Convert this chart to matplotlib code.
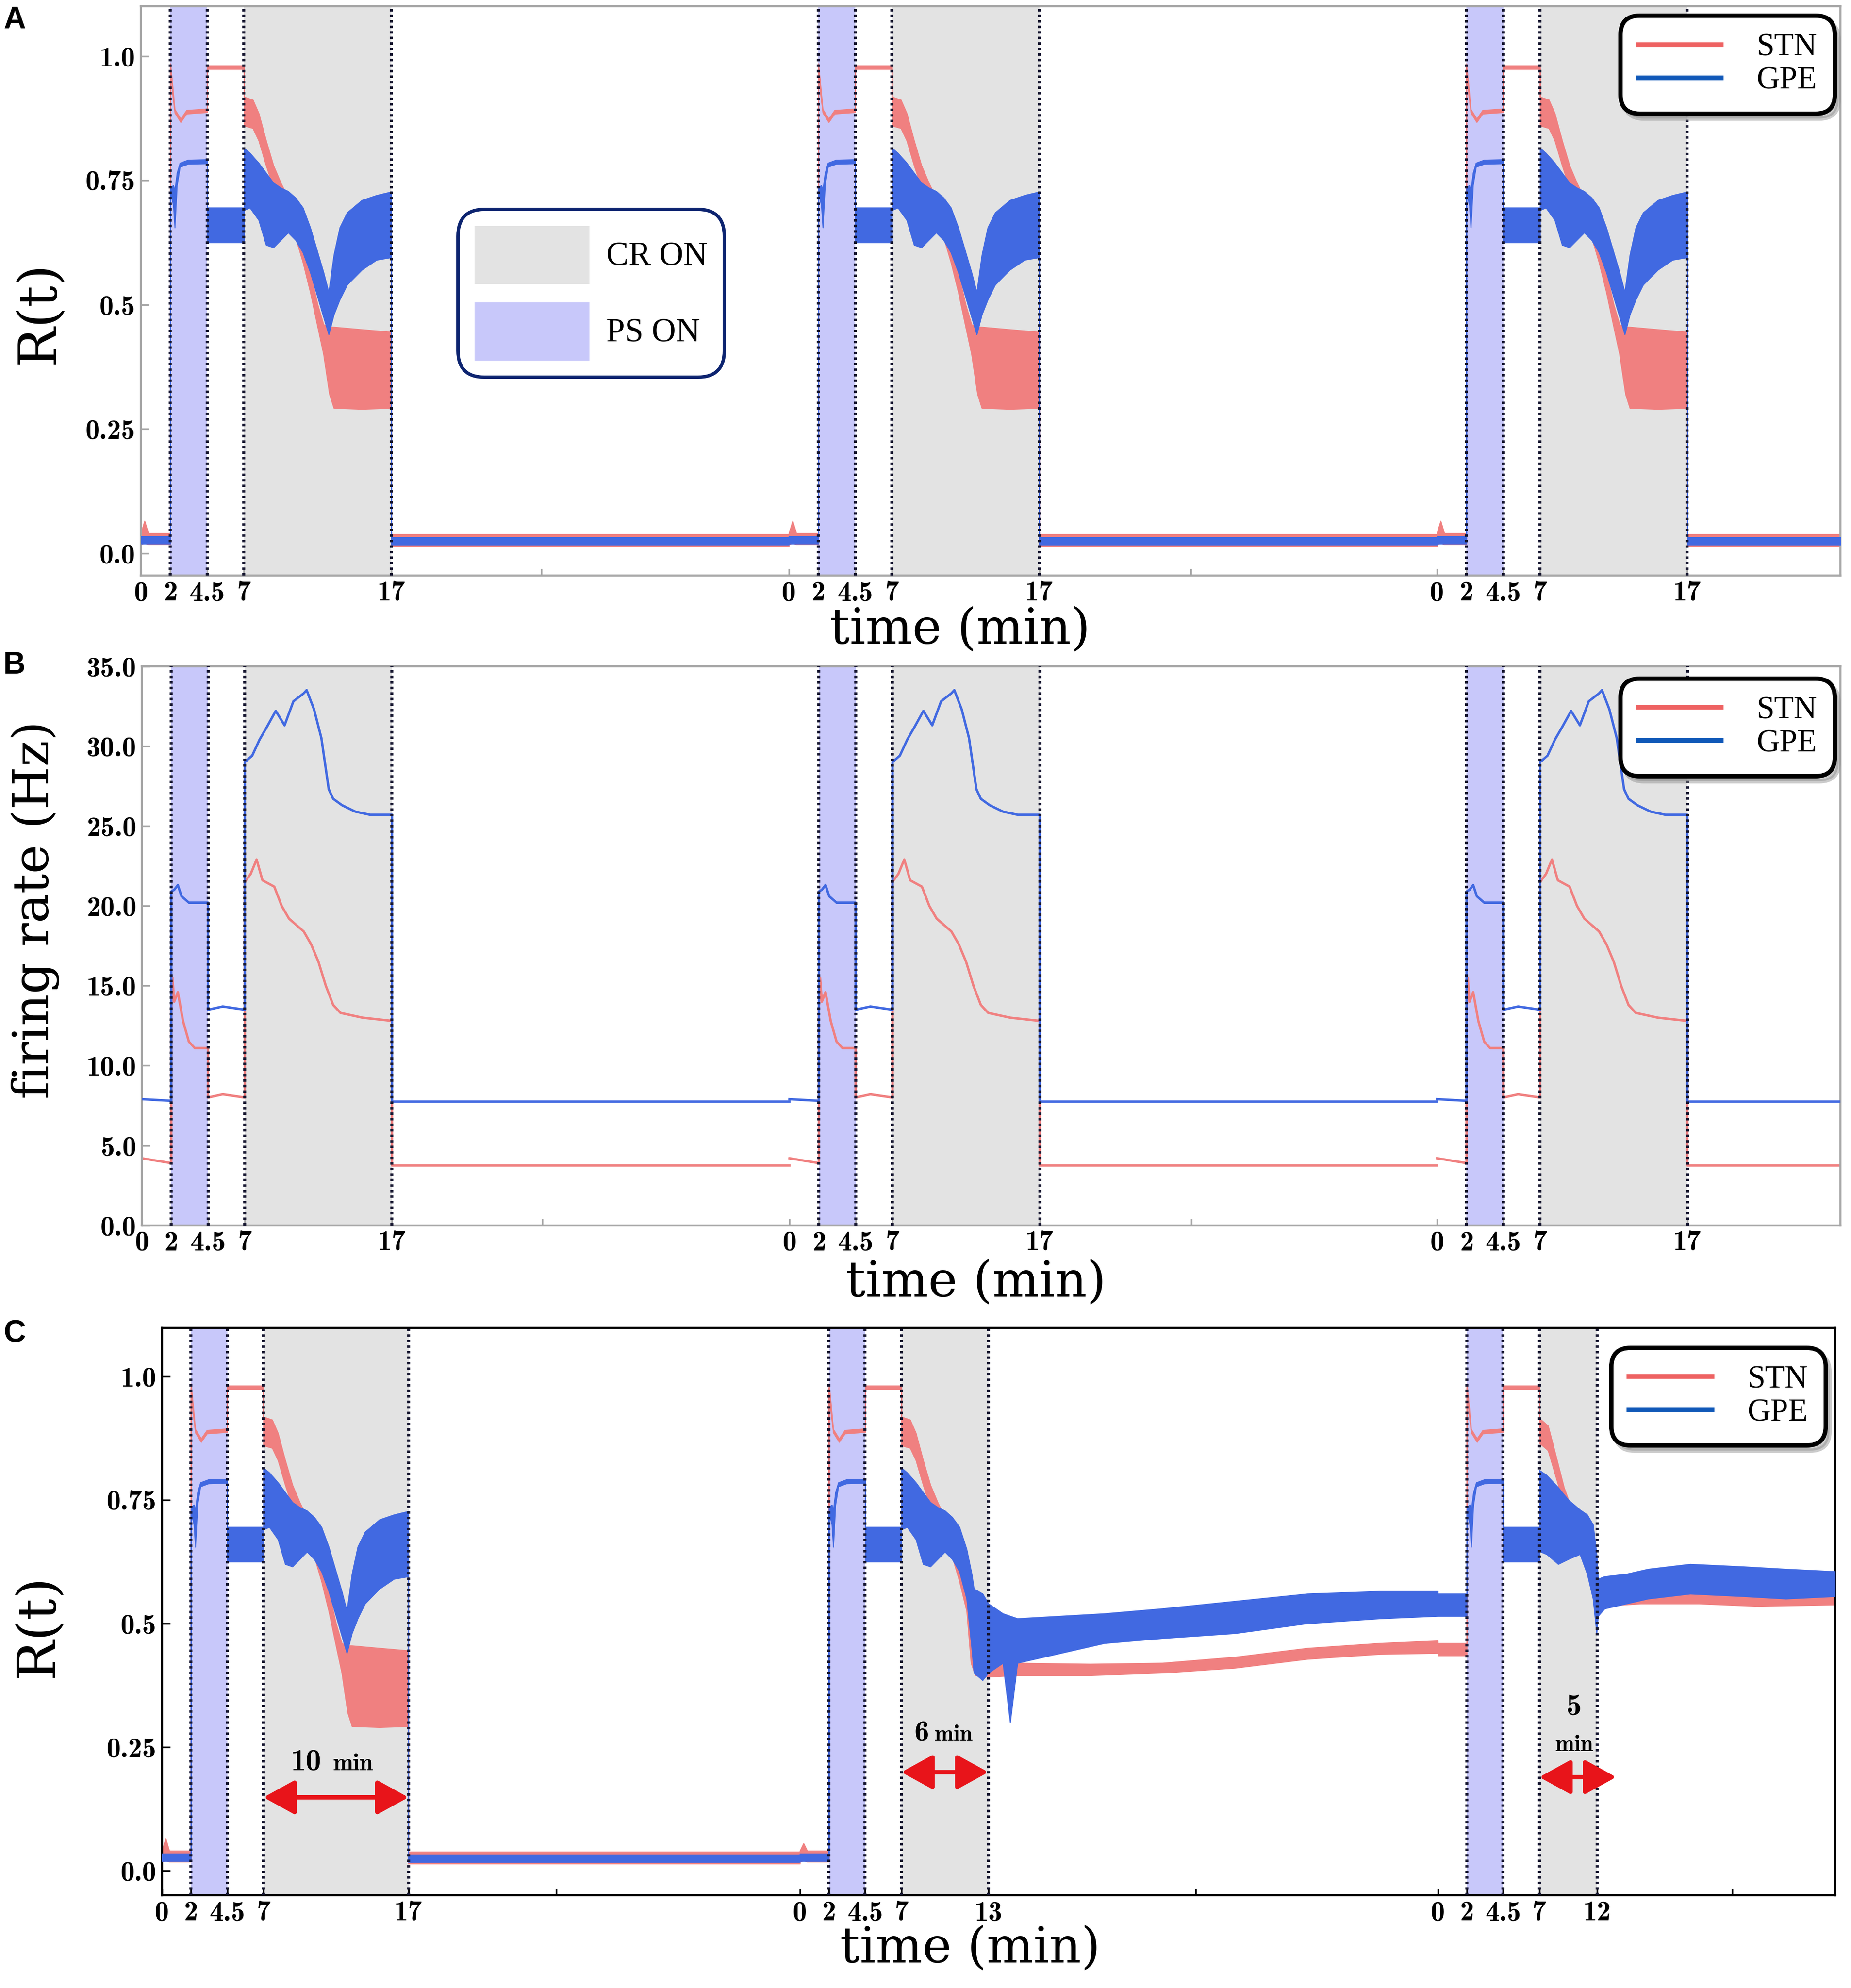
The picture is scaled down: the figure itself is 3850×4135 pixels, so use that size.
import numpy as np
import matplotlib
matplotlib.use("Agg")
import matplotlib.pyplot as plt
from matplotlib.lines import Line2D
from matplotlib.patches import Patch

# ------------------------------------------------------------------ data
SEG_STARTS = [0, 44, 88]          # each block re-starts its local clock at 0
X_MAX = 115.4

# R(t) block used in panel A (and first block of C); local minutes
STN_R_T = [0.0, 0.25, 0.5, 1.2, 2.0, 2.0, 2.12, 2.3, 2.7, 3.1, 4.5, 4.5, 7.0,
           7.0, 7.6, 8.0, 8.5, 9.0, 9.5, 10.0, 10.5, 11.0, 11.5, 12.0, 12.4, 12.8,
           13.1, 15.0, 17.0, 17.0, 44.0]
STN_R_HI = [0.04, 0.065, 0.04, 0.04, 0.04, 0.985, 0.95, 0.893, 0.874, 0.891, 0.894,
            0.981, 0.981, 0.918, 0.912, 0.885, 0.83, 0.78, 0.745, 0.715, 0.675, 0.625,
            0.565, 0.50, 0.46, 0.455, 0.455, 0.45, 0.445, 0.038, 0.038]
STN_R_LO = [0.018, 0.02, 0.018, 0.018, 0.018, 0.977, 0.93, 0.886, 0.867, 0.884, 0.887,
            0.974, 0.974, 0.86, 0.855, 0.83, 0.78, 0.735, 0.705, 0.675, 0.635, 0.585,
            0.525, 0.455, 0.40, 0.32, 0.292, 0.29, 0.292, 0.014, 0.014]

GPE_R_T = [0.0, 2.0, 2.0, 2.2, 2.3, 2.45, 2.65, 3.2, 4.5, 4.5, 7.0,
           7.0, 7.4, 8.0, 8.5, 9.0, 9.5, 10.0, 10.5, 11.0, 11.5, 12.0, 12.4, 12.75,
           13.1, 13.5, 14.0, 15.0, 16.0, 17.0, 17.0, 44.0]
GPE_R_HI = [0.034, 0.034, 0.735, 0.74, 0.73, 0.765, 0.785, 0.791, 0.792, 0.695, 0.695,
            0.815, 0.805, 0.785, 0.765, 0.745, 0.735, 0.728, 0.715, 0.695, 0.655, 0.605,
            0.565, 0.525, 0.60, 0.655, 0.685, 0.71, 0.72, 0.727, 0.032, 0.032]
GPE_R_LO = [0.019, 0.019, 0.725, 0.70, 0.655, 0.74, 0.777, 0.783, 0.784, 0.625, 0.625,
            0.69, 0.695, 0.67, 0.62, 0.615, 0.63, 0.645, 0.63, 0.605, 0.565, 0.515,
            0.475, 0.44, 0.48, 0.51, 0.54, 0.57, 0.59, 0.595, 0.017, 0.017]

# panel C, second block (CR 7-13 min)
STN_C2_T = [0.0, 0.25, 0.5, 1.2, 2.0, 2.0, 2.12, 2.3, 2.7, 3.1, 4.5, 4.5, 7.0,
            7.0, 7.6, 8.0, 8.5, 9.0, 9.5, 10.0, 10.5, 11.0, 11.5, 11.8, 12.1, 13.0,
            15.0, 20.0, 25.0, 30.0, 35.0, 40.0, 44.0]
STN_C2_HI = [0.04, 0.055, 0.04, 0.04, 0.04, 0.985, 0.95, 0.893, 0.874, 0.891, 0.894,
             0.981, 0.981, 0.918, 0.912, 0.885, 0.83, 0.78, 0.745, 0.715, 0.675, 0.625,
             0.565, 0.47, 0.425, 0.42, 0.42, 0.418, 0.42, 0.432, 0.45, 0.46, 0.465]
STN_C2_LO = [0.018, 0.02, 0.018, 0.018, 0.018, 0.977, 0.93, 0.886, 0.867, 0.884, 0.887,
             0.974, 0.974, 0.86, 0.855, 0.83, 0.78, 0.735, 0.705, 0.675, 0.635, 0.585,
             0.525, 0.42, 0.395, 0.392, 0.395, 0.395, 0.40, 0.41, 0.428, 0.438, 0.44]
GPE_C2_T = [0.0, 2.0, 2.0, 2.2, 2.3, 2.45, 2.65, 3.2, 4.5, 4.5, 7.0,
            7.0, 7.4, 8.0, 8.5, 9.0, 9.5, 10.0, 10.5, 11.0, 11.5, 11.85, 12.0, 12.6,
            13.0, 14.0, 14.5, 15.0, 18.0, 21.0, 25.0, 30.0, 35.0, 40.0, 44.0]
GPE_C2_HI = [0.034, 0.034, 0.735, 0.74, 0.73, 0.765, 0.785, 0.791, 0.792, 0.695, 0.695,
             0.815, 0.805, 0.785, 0.765, 0.745, 0.735, 0.728, 0.715, 0.695, 0.65, 0.60,
             0.57, 0.56, 0.54, 0.52, 0.515, 0.51, 0.515, 0.52, 0.53, 0.545, 0.56, 0.565,
             0.565]
GPE_C2_LO = [0.019, 0.019, 0.725, 0.70, 0.655, 0.74, 0.777, 0.783, 0.784, 0.625, 0.625,
             0.69, 0.695, 0.67, 0.62, 0.615, 0.63, 0.645, 0.63, 0.605, 0.55, 0.45,
             0.40, 0.385, 0.40, 0.42, 0.30, 0.42, 0.44, 0.46, 0.47, 0.48, 0.50, 0.51,
             0.515]

# panel C, third block (CR 7-12 min)
STN_C3_T = [0.0, 2.0, 2.0, 2.12, 2.3, 2.7, 3.1, 4.5, 4.5, 7.0,
            7.0, 7.6, 8.0, 8.7, 9.5, 10.3, 10.8, 11.0, 11.3, 14.0, 18.0, 22.0, 27.5]
STN_C3_HI = [0.46, 0.46, 0.985, 0.95, 0.893, 0.874, 0.891, 0.894, 0.981, 0.981,
             0.915, 0.90, 0.855, 0.775, 0.71, 0.645, 0.59, 0.57, 0.565, 0.568, 0.57,
             0.565, 0.565]
STN_C3_LO = [0.435, 0.435, 0.977, 0.93, 0.886, 0.867, 0.884, 0.887, 0.974, 0.974,
             0.865, 0.85, 0.81, 0.74, 0.675, 0.60, 0.55, 0.52, 0.535, 0.54, 0.54,
             0.535, 0.538]
GPE_C3_T = [0.0, 2.0, 2.0, 2.2, 2.3, 2.45, 2.65, 3.2, 4.5, 4.5, 7.0,
            7.0, 7.5, 8.3, 9.0, 9.8, 10.3, 10.7, 10.95, 11.05, 11.5, 13.0, 14.5, 17.4,
            21.0, 24.0, 27.5]
GPE_C3_HI = [0.56, 0.56, 0.735, 0.74, 0.73, 0.765, 0.785, 0.791, 0.792, 0.695, 0.695,
             0.81, 0.80, 0.775, 0.75, 0.73, 0.72, 0.70, 0.64, 0.59, 0.595, 0.60, 0.61,
             0.62, 0.615, 0.61, 0.605]
GPE_C3_LO = [0.515, 0.515, 0.725, 0.70, 0.655, 0.74, 0.777, 0.783, 0.784, 0.625, 0.625,
             0.646, 0.64, 0.62, 0.63, 0.64, 0.60, 0.55, 0.48, 0.515, 0.53, 0.54, 0.55,
             0.56, 0.555, 0.55, 0.555]

# panel B firing rate block (Hz)
GPE_F_T = [0.0, 2.0, 2.0, 2.2, 2.45, 2.7, 3.2, 4.5, 4.5, 5.5, 7.0, 7.0, 7.5, 8.0, 8.5,
           9.1, 9.7, 10.3, 11.0, 11.2, 11.7, 12.2, 12.7, 13.0, 13.6, 14.5, 15.5, 17.0,
           17.0, 44.0]
GPE_F = [7.9, 7.8, 20.9, 21.0, 21.3, 20.6, 20.2, 20.2, 13.5, 13.7, 13.5, 29.0, 29.4,
         30.4, 31.2, 32.2, 31.3, 32.8, 33.3, 33.5, 32.3, 30.5, 27.3, 26.7, 26.3, 25.9,
         25.7, 25.7, 7.75, 7.75]
STN_F_T = [0.0, 2.0, 2.0, 2.08, 2.2, 2.45, 2.8, 3.2, 3.6, 4.5, 4.5, 5.5, 7.0, 7.0,
           7.4, 7.8, 8.2, 8.6, 9.0, 9.5, 10.0, 10.5, 11.0, 11.5, 12.0, 12.5, 13.0,
           13.5, 15.0, 17.0, 17.0, 44.0]
STN_F = [4.2, 3.9, 13.5, 15.5, 14.0, 14.6, 12.8, 11.5, 11.1, 11.1, 8.0, 8.2, 8.0, 21.5,
         22.0, 22.9, 21.6, 21.4, 21.2, 20.0, 19.2, 18.8, 18.4, 17.6, 16.5, 15.0, 13.8,
         13.3, 13.0, 12.8, 3.75, 3.75]

# phase boundaries (local minutes) for each block
PS_ON, PS_OFF, CR_ON = 2.0, 4.5, 7.0
CR_OFF_AB = [17, 17, 17]
CR_OFF_C = [17, 13, 11.0]

TICK_LOCAL = [0, 2, 4.5, 7]
TICK_LAB_AB = ["0", "2", "4.5", "7", "17"]
TICK_LAB_C = [["0", "2", "4.5", "7", "17"], ["0", "2", "4.5", "7", "13"],
              ["0", "2", "4.5", "7", "12"]]
EXTRA_TICKS_AB = [27.2, 71.3]
EXTRA_TICKS_C = [27.2, 71.3, 108.3]

R_TICKS = [0.0, 0.25, 0.5, 0.75, 1.0]
R_TICK_LAB = ["0.0", "0.25", "0.5", "0.75", "1.0"]
F_TICKS = [0, 5, 10, 15, 20, 25, 30, 35]
F_TICK_LAB = ["0.0", "5.0", "10.0", "15.0", "20.0", "25.0", "30.0", "35.0"]

ARROW_LABELS = ["10", "6", "5"]

# ------------------------------------------------------------------ style
C_STN = "#f08080"
C_GPE = "#4169e1"
C_STN_LEG = "#ee6262"
C_GPE_LEG = "#1058b8"
C_PS = "#c8c8fa"
C_CR = "#e3e3e3"
C_VL = "#14142e"
C_ARROW = "#e8141a"

TICK_FONT = "cmb10"
LAB_FONT = "DejaVu Serif"
LEG_FONT = "Liberation Serif"

fig = plt.figure(figsize=(38.5, 41.35), dpi=100)
axA = fig.add_axes([0.0761, 0.7105, 0.9182, 0.2863])
axB = fig.add_axes([0.0766, 0.3836, 0.9177, 0.2813])
axC = fig.add_axes([0.0875, 0.04667, 0.9039, 0.2854])


def shade(ax, cr_offs):
    for s, cr_off in zip(SEG_STARTS, cr_offs):
        ax.axvspan(s + PS_ON, s + PS_OFF, color=C_PS, lw=0, zorder=0)
        ax.axvspan(s + CR_ON, s + cr_off, color=C_CR, lw=0, zorder=0)
        for b in (PS_ON, PS_OFF, CR_ON, cr_off):
            ax.axvline(s + b, color=C_VL, lw=4.6, ls=(0, (0.8, 1.0)), zorder=5)


def band(ax, t, lo, hi, off, color, z):
    tt = np.asarray(t, dtype=float) + off
    ax.fill_between(tt, lo, hi, color=color, edgecolor=color, lw=1.5, zorder=z)


def style_axis(ax, spine_color, extra, labels_per_seg, ends):
    ax.set_xlim(0, X_MAX)
    pos, labs = [], []
    for s, lab, e in zip(SEG_STARTS, labels_per_seg, ends):
        for v, l in zip(TICK_LOCAL + [e], lab):
            pos.append(s + v)
            labs.append(l)
    for v in extra:
        pos.append(v)
        labs.append("")
    ax.set_xticks(pos, labs, fontfamily=TICK_FONT, fontsize=42)
    ax.tick_params(axis="x", direction="in", length=10, width=2.5, pad=8,
                   color=spine_color)
    ax.tick_params(axis="y", direction="in", length=12, width=2.5, pad=8,
                   color=spine_color)
    for sp in ax.spines.values():
        sp.set_color(spine_color)
        sp.set_linewidth(3.2)


def stn_gpe_legend(ax, anchor):
    h = [Line2D([], [], color=C_STN_LEG, lw=7), Line2D([], [], color=C_GPE_LEG, lw=7)]
    leg = ax.legend(h, ["STN", "GPE"], loc="upper right", bbox_to_anchor=anchor,
                    prop={"family": LEG_FONT, "size": 48}, handlelength=2.6,
                    handletextpad=1.1, borderpad=0.55, labelspacing=0.12,
                    borderaxespad=0, frameon=True, fancybox=True,
                    shadow={"ox": 6, "oy": -8, "color": "0.55", "alpha": 0.45})
    fr = leg.get_frame()
    fr.set_edgecolor("black")
    fr.set_linewidth(6.5)
    fr.set_facecolor("white")
    fr.set_alpha(1)
    fr.set_boxstyle("round", pad=0, rounding_size=0.6)
    leg.set_zorder(10)
    return leg


# ------------------------------------------------------------------ panel A
shade(axA, CR_OFF_AB)
for s in SEG_STARTS:
    band(axA, STN_R_T, STN_R_LO, STN_R_HI, s, C_STN, 2)
    band(axA, GPE_R_T, GPE_R_LO, GPE_R_HI, s, C_GPE, 3)
axA.set_ylim(-0.045, 1.1)
axA.set_yticks(R_TICKS, R_TICK_LAB, fontfamily=TICK_FONT, fontsize=42)
style_axis(axA, "#a6a6a6", EXTRA_TICKS_AB, [TICK_LAB_AB] * 3, CR_OFF_AB)
axA.set_ylabel("R(t)", family=LAB_FONT, fontsize=80, va="center")
axA.yaxis.set_label_coords(-0.06, 0.462)
axA.set_xlabel("time (min)", family=LAB_FONT, fontsize=74, va="center")
axA.xaxis.set_label_coords(0.482, -0.096)

hp = [Patch(facecolor=C_CR, edgecolor="none"), Patch(facecolor=C_PS, edgecolor="none")]
leg2 = axA.legend(hp, ["CR ON", "PS ON"], loc="upper left",
                  bbox_to_anchor=(0.1864, 0.6436), prop={"family": LEG_FONT, "size": 50},
                  handlelength=3.45, handleheight=2.3, labelspacing=0.55,
                  handletextpad=0.5, borderpad=0.5, borderaxespad=0, fancybox=True)
f2 = leg2.get_frame()
f2.set_edgecolor("#0d2470")
f2.set_linewidth(5)
f2.set_alpha(1)
f2.set_boxstyle("round", pad=0, rounding_size=0.8)
axA.add_artist(leg2)
stn_gpe_legend(axA, (0.9966, 0.984))

# ------------------------------------------------------------------ panel B
shade(axB, CR_OFF_AB)
for s in SEG_STARTS:
    axB.plot(np.asarray(STN_F_T) + s, STN_F, color=C_STN, lw=3.6, zorder=2)
    axB.plot(np.asarray(GPE_F_T) + s, GPE_F, color=C_GPE, lw=3.6, zorder=3)
axB.set_ylim(0, 35)
axB.set_yticks(F_TICKS, F_TICK_LAB, fontfamily=TICK_FONT, fontsize=42)
style_axis(axB, "#a6a6a6", EXTRA_TICKS_AB, [TICK_LAB_AB] * 3, CR_OFF_AB)
axB.set_ylabel("firing rate (Hz)", family=LAB_FONT, fontsize=74, va="center")
axB.yaxis.set_label_coords(-0.0626, 0.564)
axB.set_xlabel("time (min)", family=LAB_FONT, fontsize=74, va="center")
axB.xaxis.set_label_coords(0.491, -0.103)
stn_gpe_legend(axB, (0.9966, 0.9785))

# ------------------------------------------------------------------ panel C
shade(axC, CR_OFF_C)
band(axC, STN_R_T, STN_R_LO, STN_R_HI, SEG_STARTS[0], C_STN, 2)
band(axC, GPE_R_T, GPE_R_LO, GPE_R_HI, SEG_STARTS[0], C_GPE, 3)
band(axC, STN_C2_T, STN_C2_LO, STN_C2_HI, SEG_STARTS[1], C_STN, 2)
band(axC, GPE_C2_T, GPE_C2_LO, GPE_C2_HI, SEG_STARTS[1], C_GPE, 3)
band(axC, STN_C3_T, STN_C3_LO, STN_C3_HI, SEG_STARTS[2], C_STN, 2)
band(axC, GPE_C3_T, GPE_C3_LO, GPE_C3_HI, SEG_STARTS[2], C_GPE, 3)
axC.set_ylim(-0.05, 1.098)
axC.set_yticks(R_TICKS, R_TICK_LAB, fontfamily=TICK_FONT, fontsize=42)
style_axis(axC, "black", EXTRA_TICKS_C, TICK_LAB_C, CR_OFF_C)
axC.set_ylabel("R(t)", family=LAB_FONT, fontsize=80, va="center")
axC.yaxis.set_label_coords(-0.074, 0.475)
axC.set_xlabel("time (min)", family=LAB_FONT, fontsize=74, va="center")
axC.xaxis.set_label_coords(0.483, -0.094)
stn_gpe_legend(axC, (0.9943, 0.9653))

# duration arrows
arrow_y = [0.148, 0.199, 0.189]
arrow_end = [17, 13, 12.3]
for s, e, y in zip(SEG_STARTS, arrow_end, arrow_y):
    axC.annotate("", xy=(s + e, y), xytext=(s + CR_ON, y),
                 arrowprops=dict(arrowstyle="<|-|>,head_length=1.0,head_width=0.55",
                                 color=C_ARROW, lw=6.5, mutation_scale=40,
                                 shrinkA=0, shrinkB=0), zorder=8)
# "10 min"
axC.text(SEG_STARTS[0] + 11.0, 0.203, ARROW_LABELS[0], family=TICK_FONT, fontsize=46,
         ha="right", va="baseline", zorder=8)
axC.text(SEG_STARTS[0] + 11.8, 0.203, "min", family=TICK_FONT, fontsize=36,
         ha="left", va="baseline", zorder=8)
# "6 min"
axC.text(SEG_STARTS[1] + 8.9, 0.262, ARROW_LABELS[1], family=TICK_FONT, fontsize=44,
         ha="right", va="baseline", zorder=8)
axC.text(SEG_STARTS[1] + 9.3, 0.262, "min", family=TICK_FONT, fontsize=34,
         ha="left", va="baseline", zorder=8)
# "5 min" stacked
axC.text(SEG_STARTS[2] + 9.4, 0.315, ARROW_LABELS[2], family=TICK_FONT, fontsize=46,
         ha="center", va="baseline", zorder=8)
axC.text(SEG_STARTS[2] + 9.4, 0.242, "min", family=TICK_FONT, fontsize=34,
         ha="center", va="baseline", zorder=8)

# panel letters
for lab, y in zip(["A", "B", "C"], [42, 1384, 2774]):
    fig.text(30 / 3850, 1 - y / 4135, lab, family="Liberation Sans", weight="bold",
             fontsize=46, ha="center", va="center")

fig.savefig("out.png", dpi=100)
